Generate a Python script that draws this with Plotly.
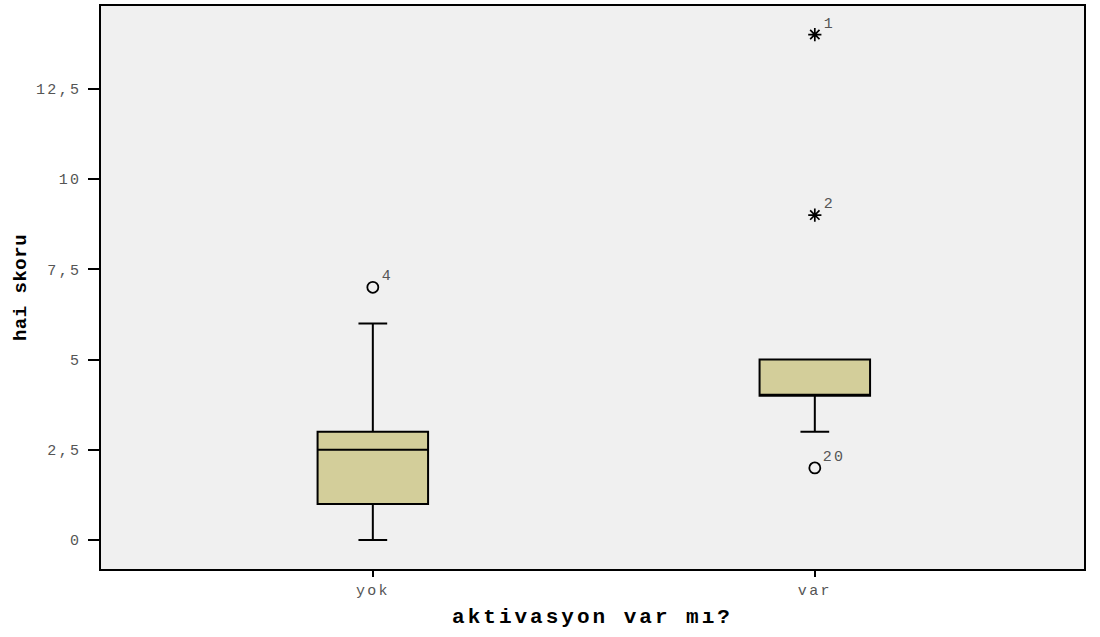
import plotly.graph_objects as go

# Data
categories = ["yok", "var"]
cat_pos = [0, 1]
q1 = [1, 4]
median = [2.5, 4]
q3 = [3, 5]
lowerfence = [0, 3]
upperfence = [6, 5]

# outliers: (category index, value, case label)
out_circle_cat = [0, 1]
out_circle_val = [7, 2]
out_circle_lab = ["4", "20"]
out_star_cat = [1, 1]
out_star_val = [14, 9]
out_star_lab = ["1", "2"]

y_ticks = [0, 2.5, 5, 7.5, 10, 12.5]
y_tick_text = ["0", "2,5", "5", "7,5", "10", "12,5"]

FONT = "Liberation Mono, Courier New, monospace"
fig = go.Figure()

fig.add_trace(go.Box(
    x=cat_pos, q1=q1, median=median, q3=q3,
    lowerfence=lowerfence, upperfence=upperfence,
    boxpoints=False, width=0.25, whiskerwidth=0.26,
    fillcolor="#D3CE9A", line=dict(color="black", width=2),
    showlegend=False, hoverinfo="skip",
))

fig.add_trace(go.Scatter(
    x=out_circle_cat, y=out_circle_val, mode="markers",
    marker=dict(symbol="circle-open", size=11, color="black", line=dict(width=1.8)),
    showlegend=False, hoverinfo="skip",
))
fig.add_trace(go.Scatter(
    x=out_star_cat, y=out_star_val, mode="markers",
    marker=dict(symbol="asterisk-open", size=11, color="black", line=dict(width=1.7)),
    showlegend=False, hoverinfo="skip",
))

for xs, ys, labs in [(out_circle_cat, out_circle_val, out_circle_lab),
                     (out_star_cat, out_star_val, out_star_lab)]:
    for x, y, t in zip(xs, ys, labs):
        fig.add_annotation(x=x, y=y, text=t, showarrow=False,
                           xanchor="left", yanchor="bottom",
                           xshift=8, yshift=0,
                           font=dict(family=FONT, size=15, color="#555555"))

fig.update_layout(
    width=1100, height=637,
    margin=dict(l=101, r=16, t=4, b=68),
    plot_bgcolor="#F0F0F0", paper_bgcolor="white",
    font=dict(family=FONT),
)
fig.update_xaxes(
    range=[-0.615, 1.609], tickvals=cat_pos, ticktext=categories,
    showgrid=False, zeroline=False,
    showline=True, linecolor="black", linewidth=1.5, mirror=True,
    ticks="outside", ticklen=6, tickwidth=1.5, tickcolor="black",
    tickfont=dict(family=FONT, size=15, color="#555555"),
    title=dict(text="<b>aktivasyon var mı?</b>", standoff=10,
               font=dict(family=FONT, size=21, color="black")),
)
fig.update_yaxes(
    range=[-0.8, 14.79], tickvals=y_ticks, ticktext=y_tick_text,
    showgrid=False, zeroline=False,
    showline=True, linecolor="black", linewidth=1.5, mirror=True,
    ticks="outside", ticklen=11, tickwidth=1.5, tickcolor="black",
    ticklabelstandoff=4,
    tickfont=dict(family=FONT, size=15, color="#555555"),
    title=dict(text="<b>hai skoru</b>", standoff=14,
               font=dict(family=FONT, size=19, color="black")),
)

post = """
document.body.style.margin = '0px';
var gd = document.getElementById('{plot_id}');
gd.querySelectorAll('.xtick text, .ytick text, .annotation-text').forEach(function(t){
  t.style.letterSpacing = '2.3px';
});
gd.querySelectorAll('.xtitle').forEach(function(t){ t.style.letterSpacing = '3px'; });
gd.querySelectorAll('.ytitle').forEach(function(t){ t.style.letterSpacing = '0.5px'; });
"""

fig.write_html("out.html", post_script=post, config={"displayModeBar": False})
